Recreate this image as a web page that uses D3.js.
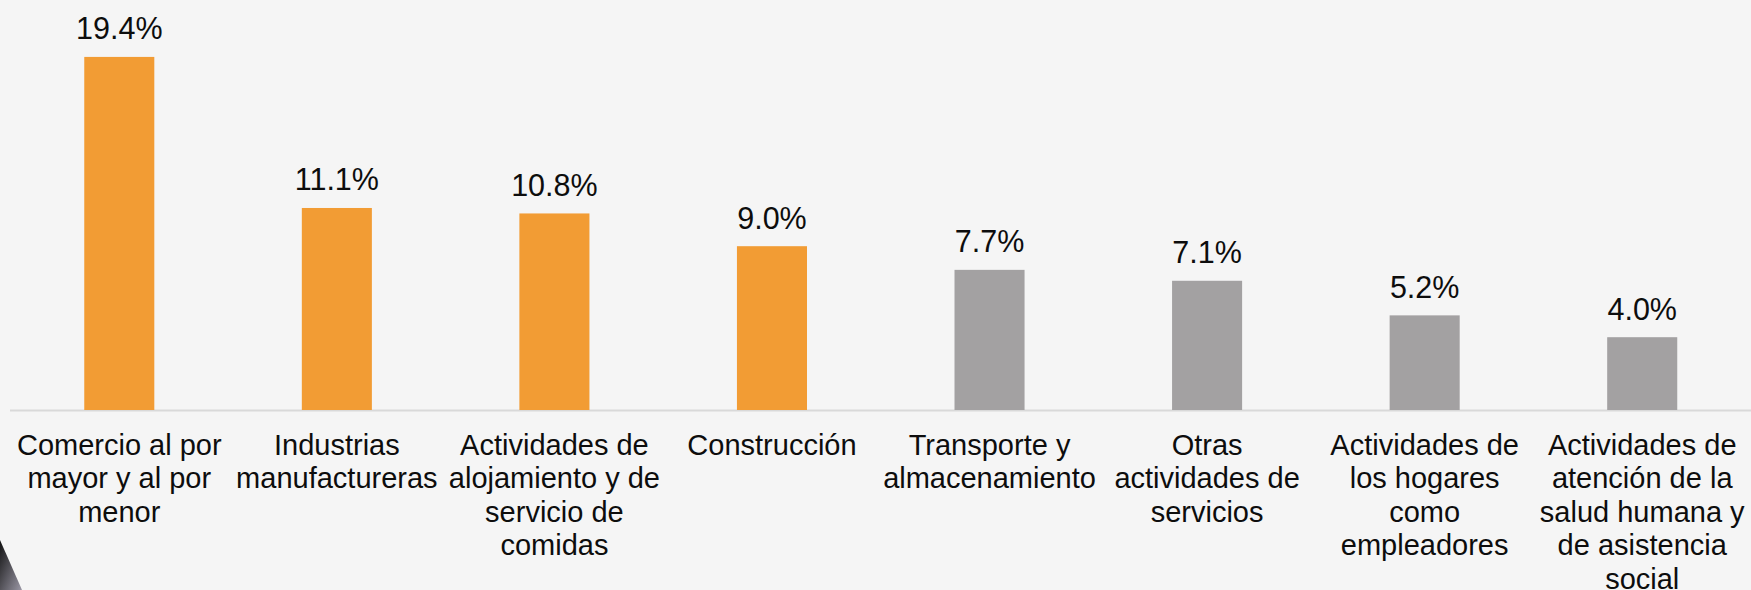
<!DOCTYPE html>
<html>
<head>
<meta charset="utf-8">
<script src="https://cdn.jsdelivr.net/npm/d3@7"></script>
<style>
  html, body { margin: 0; padding: 0; background: #f5f5f5; }
  svg { display: block; }
</style>
</head>
<body>
<div id="chart"></div>
<script>

var categories = [
  "Comercio al por\nmayor y al por\nmenor",
  "Industrias\nmanufactureras",
  "Actividades de\nalojamiento y de\nservicio de\ncomidas",
  "Construcción",
  "Transporte y\nalmacenamiento",
  "Otras\nactividades de\nservicios",
  "Actividades de\nlos hogares\ncomo\nempleadores",
  "Actividades de\natención de la\nsalud humana y\nde asistencia\nsocial"
];
var values = [19.4, 11.1, 10.8, 9.0, 7.7, 7.1, 5.2, 4.0];
var highlighted = [true, true, true, true, false, false, false, false];

var wd = 1751, ht = 590;
var base = 410;

var svg = d3.select('#chart')
	.append("svg")
	.attr("width", wd)
	.attr("height", ht);

svg.append("rect")
	.attr("width", wd)
	.attr("height", ht)
	.attr("fill", "#f5f5f5");

var x = d3.scaleBand()
	.domain(categories)
	.range([10.5, 1751])
	.paddingInner(0.678)
	.paddingOuter(0.339);

var y = d3.scaleLinear()
	.domain([0, 20])
	.range([base, 46]);

// base line
svg.append("line")
	.attr("x1", 10)
	.attr("x2", wd)
	.attr("y1", base + 0.5)
	.attr("y2", base + 0.5)
	.attr("stroke", "#d9d9d9")
	.attr("stroke-width", 2);

svg.selectAll('.bar')
	.data(values)
	.enter()
	.append('rect')
	.attr('class', 'bar')
	.attr('x', function (d, i) { return x(categories[i]); })
	.attr('y', function (d) { return y(d); })
	.attr('width', x.bandwidth())
	.attr('height', function (d) { return y(0) - y(d); })
	.attr('fill', function (d, i) { return highlighted[i] ? "#f29c34" : "#a3a1a2"; });

svg.selectAll('.val')
	.data(values)
	.enter()
	.append('text')
	.attr('class', 'val')
	.attr('x', function (d, i) { return x(categories[i]) + x.bandwidth() / 2; })
	.attr('y', function (d) { return y(d) - 17.5; })
	.attr('text-anchor', 'middle')
	.attr('font-family', 'Liberation Sans, Arial, sans-serif')
	.attr('font-size', '30.5px')
	.attr('fill', '#0d0d0d')
	.text(function (d) { return d.toFixed(1) + "%"; });

var lbl = svg.selectAll('.cat')
	.data(categories)
	.enter()
	.append('text')
	.attr('class', 'cat')
	.attr('text-anchor', 'middle')
	.attr('font-family', 'Liberation Sans, Arial, sans-serif')
	.attr('font-size', '29px')
	.attr('fill', '#0d0d0d');

lbl.selectAll('tspan')
	.data(function (d) { return d.split("\n").map(function (t) { return {t: t, c: d}; }); })
	.enter()
	.append('tspan')
	.attr('x', function (d) { return x(d.c) + x.bandwidth() / 2; })
	.attr('y', function (d, i) { return 455 + i * 33.4; })
	.text(function (d) { return d.t; });

// corner decoration
var grad = svg.append("defs").append("linearGradient")
	.attr("id", "cornerGrad")
	.attr("x1", 0).attr("y1", 0).attr("x2", 1).attr("y2", 1);
grad.append("stop").attr("offset", "0%").attr("stop-color", "#111");
grad.append("stop").attr("offset", "100%").attr("stop-color", "#9a97a5");

svg.append("path")
	.attr("d", "M0,540 L22,590 L0,590 Z")
	.attr("fill", "url(#cornerGrad)");

</script>
</body>
</html>
